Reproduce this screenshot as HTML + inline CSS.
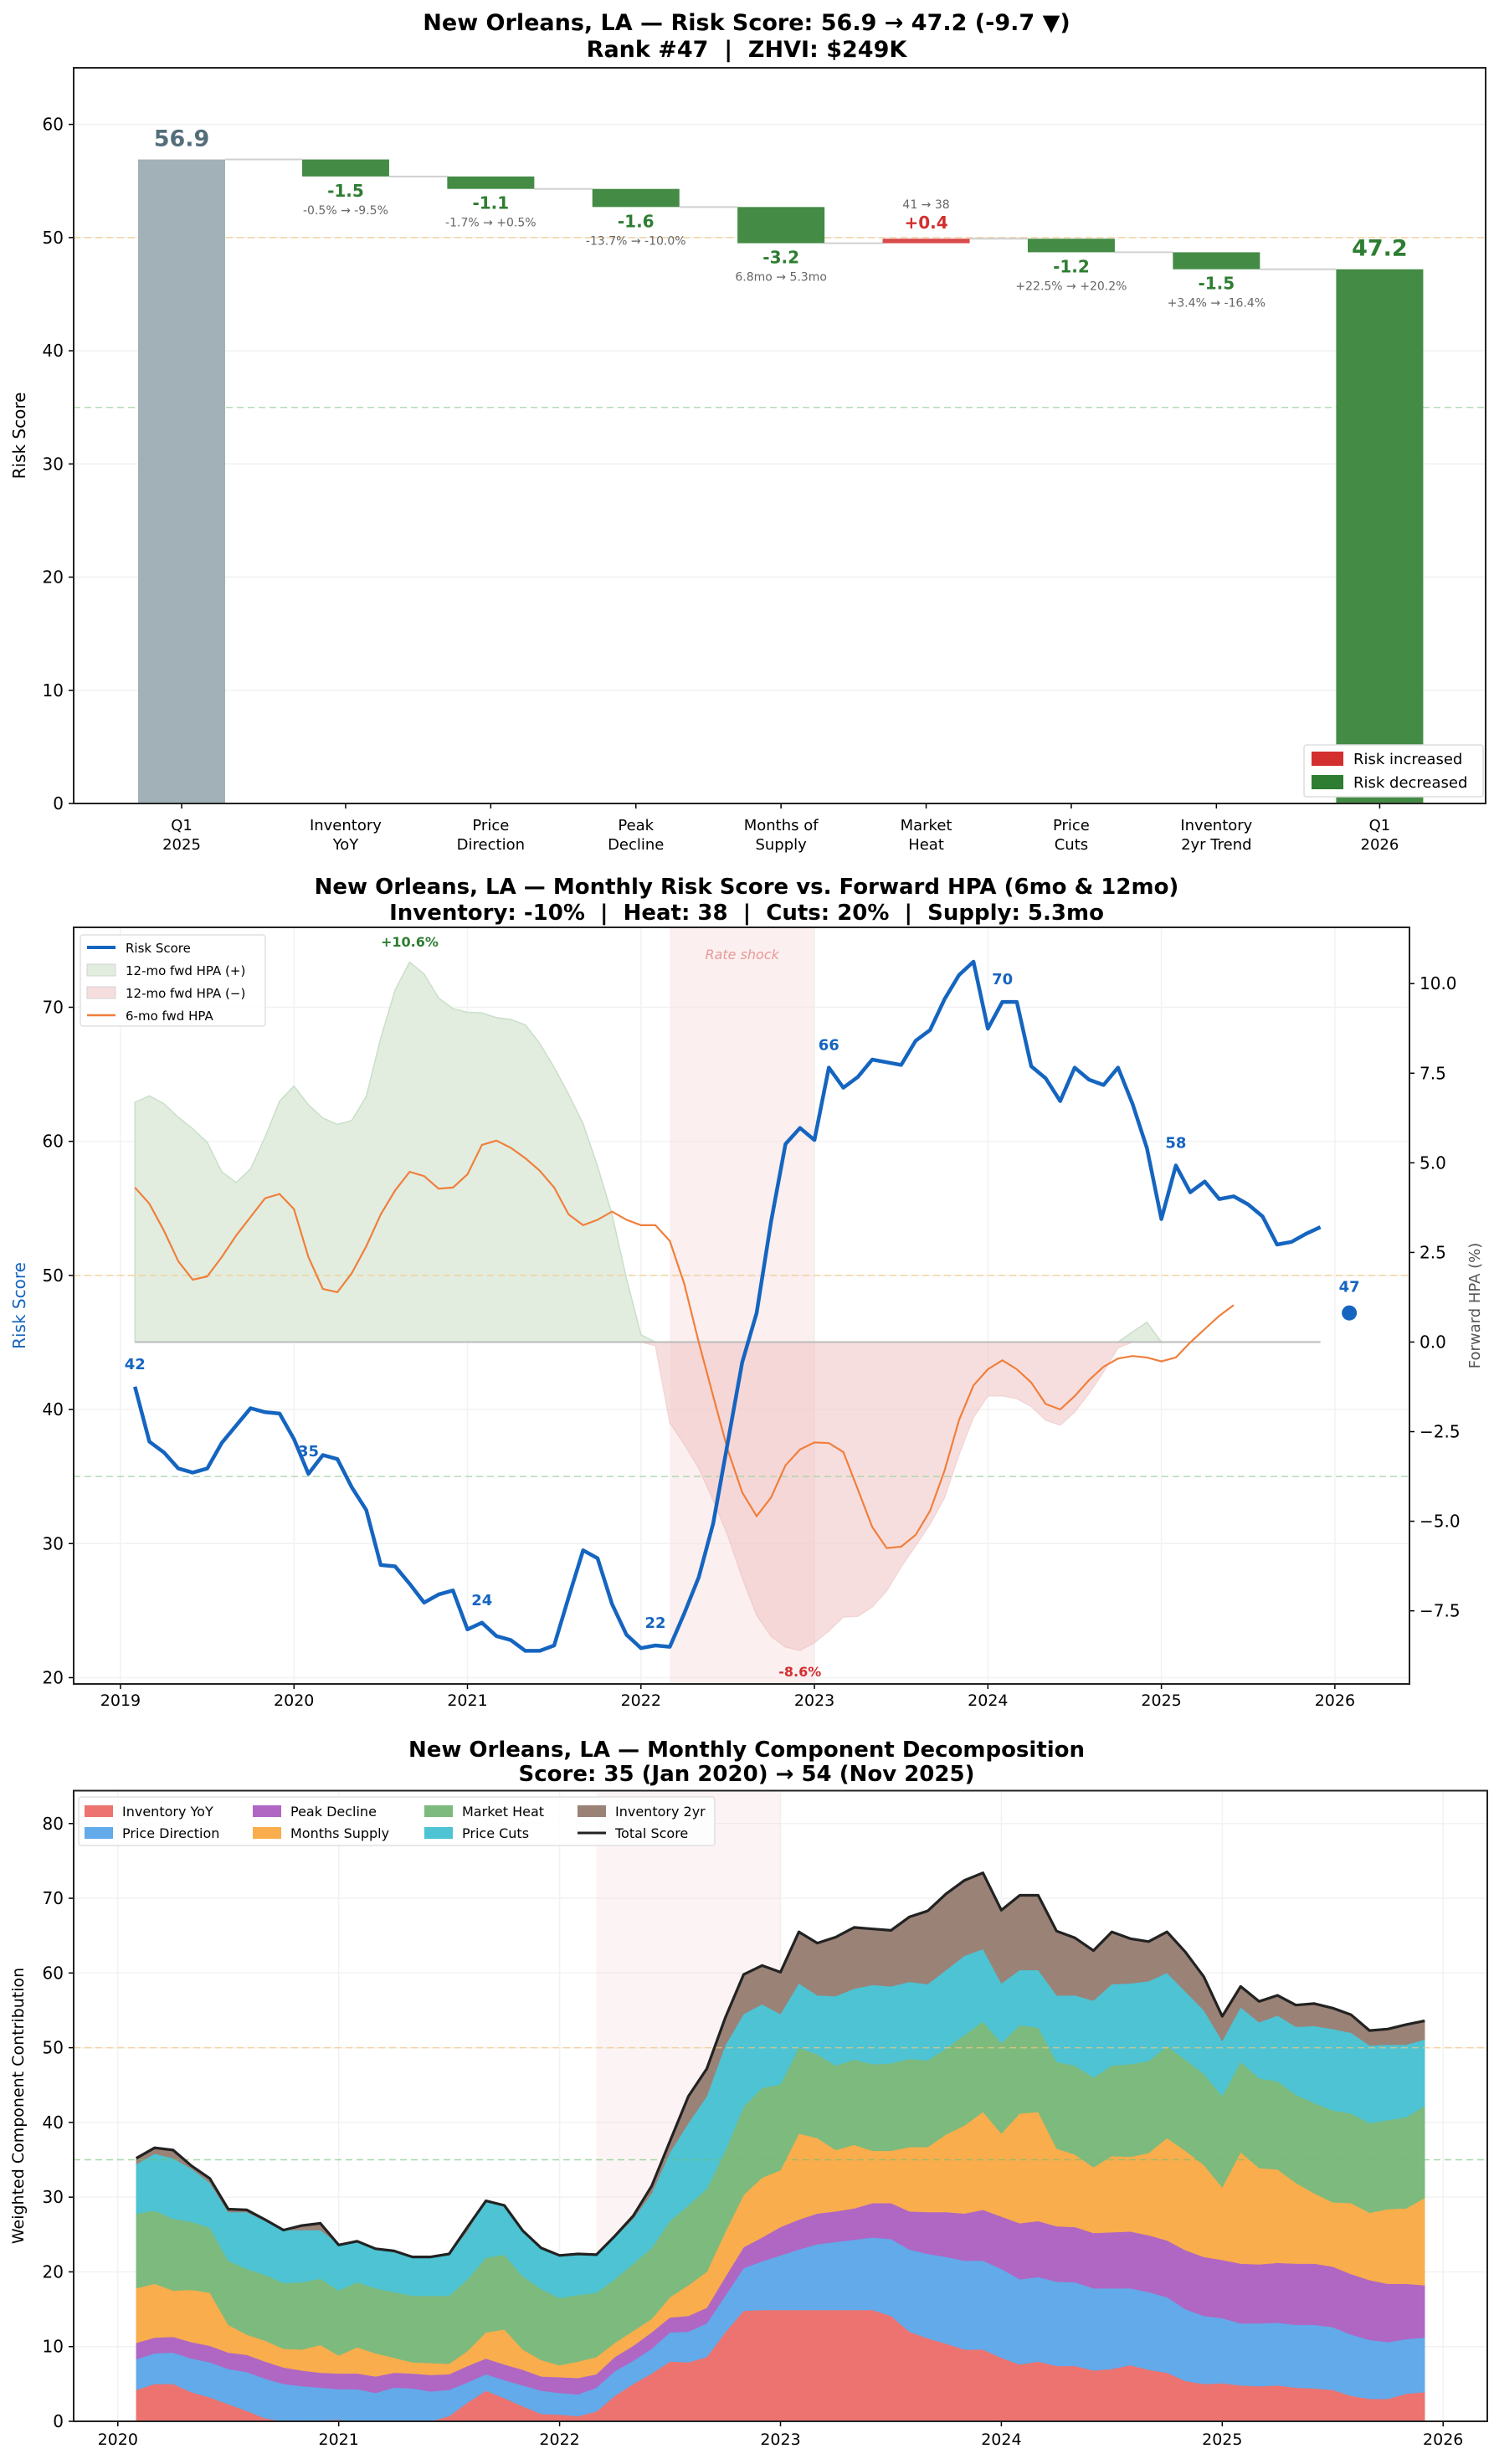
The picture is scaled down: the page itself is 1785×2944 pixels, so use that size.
<!DOCTYPE html>
<html><head><meta charset="utf-8"><style>
html,body{margin:0;padding:0;background:#fff;}
svg{display:block;font-family:"DejaVu Sans","Liberation Sans",sans-serif;}
</style></head><body>
<svg id="c" width="1785" height="2944" xmlns="http://www.w3.org/2000/svg"></svg>
<script>
// ---------- Panel 1 data ----------
const wfCategories=['Q1\n2025','Inventory\nYoY','Price\nDirection','Peak\nDecline','Months of\nSupply','Market\nHeat','Price\nCuts','Inventory\n2yr Trend','Q1\n2026'];
const wfStart=56.9;
const wfDeltas=[-1.5,-1.1,-1.6,-3.2,0.4,-1.2,-1.5];
const wfEnd=47.2;
const wfDetails=['-0.5% → -9.5%','-1.7% → +0.5%','-13.7% → -10.0%','6.8mo → 5.3mo','41 → 38','+22.5% → +20.2%','+3.4% → -16.4%'];
const wfYTicks=[0,10,20,30,40,50,60];
// ---------- Panel 2 data ----------
const scoreValues=[41.7,37.6,36.8,35.6,35.3,35.6,37.5,38.8,40.1,39.8,39.7,
37.8,35.2,36.6,36.3,34.2,32.5,28.4,28.3,27.0,25.6,26.2,26.5,
23.6,24.1,23.1,22.8,22.0,22.0,22.4,26.0,29.5,28.9,25.5,23.2,
22.2,22.4,22.3,24.8,27.5,31.5,37.5,43.5,47.2,54.0,59.8,61.0,
60.1,65.5,64.0,64.8,66.1,65.9,65.7,67.5,68.3,70.6,72.4,73.4,
68.4,70.4,70.4,65.6,64.7,63.0,65.5,64.6,64.2,65.5,62.8,59.5,
54.2,58.2,56.2,57.0,55.7,55.9,55.3,54.4,52.3,52.5,53.1,53.6];
const scoreStartYear=2019, scoreStartMonth=2;
const fwd12Values=[6.69,6.87,6.65,6.27,5.95,5.57,4.75,4.45,4.83,5.72,6.72,7.14,
6.62,6.25,6.07,6.18,6.85,8.48,9.82,10.6,10.27,9.6,9.3,9.2,
9.18,9.05,9.0,8.85,8.33,7.66,6.91,6.09,4.9,3.56,1.77,0.2,
-0.1,-2.25,-2.85,-3.52,-4.41,-5.38,-6.57,-7.62,-8.21,-8.51,-8.6,-8.39,
-8.06,-7.67,-7.65,-7.39,-6.94,-6.27,-5.68,-5.08,-4.34,-3.14,-2.1,-1.5,
-1.5,-1.58,-1.8,-2.18,-2.32,-1.95,-1.43,-0.83,-0.16,0.28,0.55,0];
const fwd6Values=[4.31,3.86,3.11,2.25,1.74,1.83,2.37,2.97,3.49,4.01,4.13,3.71,
2.37,1.48,1.39,1.92,2.67,3.56,4.23,4.75,4.63,4.28,4.31,4.68,
5.5,5.62,5.42,5.13,4.78,4.31,3.56,3.26,3.41,3.64,3.41,3.26,
3.26,2.82,1.62,-0.01,-1.51,-3.0,-4.19,-4.86,-4.34,-3.44,-3.0,-2.8,
-2.82,-3.07,-4.11,-5.16,-5.75,-5.71,-5.38,-4.71,-3.59,-2.18,-1.21,-0.76,
-0.51,-0.76,-1.13,-1.73,-1.88,-1.51,-1.06,-0.69,-0.46,-0.39,-0.43,-0.54,
-0.43,-0.01,0.36,0.73,1.03];
const scoreLabelIdx=[0,12,24,36,48,60,72];
const currentScore=47.2;
const currentDate=2026+1/12;
const rateShock=[2022+2/12,2023.0];
const p2YearTicks=[2019,2020,2021,2022,2023,2024,2025,2026];
const p2LeftTicks=[20,30,40,50,60,70];
const p2RightTicks=[-7.5,-5.0,-2.5,0.0,2.5,5.0,7.5,10.0];
// ---------- Panel 3 data (Feb 2020 .. Dec 2025) ----------
const compNames=['Inventory YoY','Price Direction','Peak Decline','Months Supply','Market Heat','Price Cuts','Inventory 2yr'];
const compInventoryYoY=[4.2,5.0,5.0,3.9,3.2,2.3,1.4,0.4,0,0,0.15,0.2,0,0,0,0,0,0.7,2.5,4.1,3.1,2.0,1.0,0.9,0.7,1.3,3.4,5.0,6.4,8.0,7.9,8.6,11.9,14.8,14.9,14.9,
14.9,14.9,14.9,14.9,14.9,14.1,12.0,11.1,10.4,9.6,9.6,8.5,7.6,8.0,7.4,7.4,6.8,7.0,7.5,6.9,6.5,5.4,5.0,5.1,4.8,4.7,4.8,4.5,4.4,4.2,3.4,3.0,3.0,3.7,3.9];
const compPriceDirection=[4.1,4.1,4.2,4.5,4.7,4.7,5.2,5.3,5.0,4.7,4.35,4.1,4.3,3.8,4.5,4.4,4.0,3.5,2.7,2.2,2.4,2.8,3.1,2.9,2.9,3.2,3.3,3.1,3.3,3.9,4.1,4.5,4.9,5.7,6.5,7.3,
8.1,8.8,9.1,9.4,9.7,10.3,11.0,11.3,11.6,11.9,11.9,11.9,11.4,11.3,11.3,11.2,11.0,10.8,10.3,10.4,10.1,9.6,9.1,8.7,8.3,8.4,8.4,8.4,8.5,8.4,8.2,7.9,7.6,7.3,7.3];
const compPeakDecline=[2.2,2.1,2.1,2.2,2.2,2.2,2.3,2.3,2.2,2.1,2.0,2.1,2.1,2.2,2.0,2.0,2.2,2.1,2.2,2.1,2.1,2.1,1.9,2.1,2.2,1.8,1.9,2.0,2.2,2.0,2.1,2.1,2.5,2.8,3.2,3.8,
4.0,4.1,4.1,4.2,4.6,4.8,5.1,5.6,6.0,6.3,6.8,7.0,7.5,7.5,7.4,7.4,7.4,7.5,7.6,7.6,7.6,7.9,7.9,7.8,8.0,7.9,8.0,8.2,8.2,8.1,8.1,8.0,7.8,7.4,7.0];
const compMonthsSupply=[7.3,7.2,6.2,7.0,7.1,3.7,2.7,2.8,2.5,2.8,3.7,2.4,3.5,3.1,2.0,1.5,1.6,1.4,2.0,3.5,4.7,2.7,2.2,1.6,2.2,2.3,1.9,2.0,1.8,2.7,4.1,4.8,6.0,7.0,8.0,7.6,
11.5,10.1,8.2,8.5,7.0,7.0,8.6,8.7,10.4,11.8,13.1,11.1,14.7,14.6,10.4,9.7,8.8,10.2,10.0,11.0,13.7,13.3,12.3,9.7,14.9,12.9,12.5,10.8,9.4,8.6,9.5,9.0,10.0,10.1,11.7];
const compMarketHeat=[10.0,9.8,9.6,9.1,8.7,8.6,8.8,8.8,8.8,9.0,8.9,8.7,8.7,8.7,8.8,8.9,9.0,9.1,9.6,10.0,10.0,9.8,9.5,9.0,8.9,8.6,8.5,9.0,9.5,10.2,10.7,11.1,10.9,11.8,12.0,11.5,
11.5,11.2,11.3,11.4,11.6,11.7,11.8,11.6,11.5,12.1,12.1,12.1,11.8,11.3,11.6,11.9,12.0,12.1,12.4,12.3,12.3,12.2,12.2,12.2,12.1,12.0,11.8,11.8,12.1,12.3,12.0,12.0,11.9,12.2,12.3];
const compPriceCuts=[6.6,7.6,8.1,7.1,6.0,6.5,7.6,7.2,7.1,7.0,6.5,6.2,5.6,5.3,5.6,5.2,5.2,5.5,6.5,7.7,6.6,6.1,5.6,5.7,5.5,5.1,5.6,6.0,7.3,9.2,11.0,12.4,14.1,12.4,11.2,9.4,
8.6,7.9,9.3,9.5,10.6,10.3,10.3,10.2,10.5,10.6,9.7,8.0,7.4,7.7,8.9,9.4,10.3,10.9,10.8,10.7,9.8,9.1,8.5,7.4,7.3,7.5,8.8,9.1,10.3,10.9,10.8,10.4,10.1,9.7,8.9];
const compInventory2yr=[0.8,0.8,1.1,0.4,0.6,0.4,0.3,0.2,0,0.6,0.9,0,0,0,0,0,0,0.1,0.5,0,0,0,0,0,0,0,0.2,0.4,1.0,1.5,3.6,3.7,3.7,5.3,5.2,5.6,
6.9,7.0,7.9,8.2,7.5,7.5,8.7,9.8,10.2,10.1,10.2,9.8,10.0,10.0,8.6,7.7,6.7,7.0,6.0,5.3,5.5,5.3,4.5,3.1,2.8,2.8,2.7,2.9,3.0,2.8,2.4,2.0,2.1,2.7,2.5];
const p3StartIdx=12;
const p3YearTicks=[2020,2021,2022,2023,2024,2025,2026];
const p3YTicks=[0,10,20,30,40,50,60,70,80];

// ---------- helpers ----------
const NS='http://www.w3.org/2000/svg';
const svg=document.getElementById('c');
function mk(tag,attrs,parent){const e=document.createElementNS(NS,tag);for(const k in attrs)e.setAttribute(k,attrs[k]);(parent||svg).appendChild(e);return e;}
function tx(x,y,s,size,opts,parent){opts=opts||{};const e=mk('text',{x:x,y:y,'font-size':size,'text-anchor':opts.anchor||'middle',fill:opts.fill||'#000','font-weight':opts.weight||'normal'},parent);if(opts.style)e.setAttribute('font-style',opts.style);if(opts.rot)e.setAttribute('transform','rotate('+opts.rot+' '+x+' '+y+')');e.textContent=s;return e;}
function grp(){return mk('g',{});}
function dateOf(i){return scoreStartYear+(scoreStartMonth-1+i)/12;}
const SP='\u00a0';

// ================= PANEL 1 =================
const P1={l:88,r:1775,t:81,b:960,ymax:65};
function y1(v){return P1.b-(v/P1.ymax)*(P1.b-P1.t);}
const wfPos=[0,1.13,2.13,3.13,4.13,5.13,6.13,7.13,8.255];
function x1(p){return 217+p*173.4;}
const bw=104;
let g=grp();


let t=tx(892,36,'New Orleans, LA — Risk Score: 56.9 → 47.2 (-9.7 ▼)',27,{weight:'bold'},g);


t=tx(892,68,'Rank #47'+SP+SP+'|'+SP+SP+'ZHVI: $249K',27,{weight:'bold'},g);


wfYTicks.forEach(v=>{
  const gl=mk('line',{x1:P1.l,x2:P1.r,y1:y1(v),y2:y1(v),stroke:'#f0f0f0','stroke-width':1.5},g);
  
  
  const tl=tx(P1.l-12,y1(v)+7,String(v),20,{anchor:'end'},g);
  
  
  const tk=mk('line',{x1:P1.l-6,x2:P1.l,y1:y1(v),y2:y1(v),stroke:'#000','stroke-width':1.5},g);
  
  
});
let hl=mk('line',{x1:P1.l,x2:P1.r,y1:y1(50),y2:y1(50),stroke:'#f5c77e','stroke-width':1.5,'stroke-dasharray':'8,5',opacity:0.7},g);


hl=mk('line',{x1:P1.l,x2:P1.r,y1:y1(35),y2:y1(35),stroke:'#9fd3a4','stroke-width':1.5,'stroke-dasharray':'8,5',opacity:0.8},g);


let b=mk('rect',{x:x1(wfPos[0])-bw/2,y:y1(wfStart),width:bw,height:y1(0)-y1(wfStart),fill:'#a2b0b8'},g);


t=tx(x1(wfPos[0]),y1(wfStart)-16,wfStart.toFixed(1),27,{weight:'bold',fill:'#546e7a'},g);


let level=wfStart;
wfDeltas.forEach((d,i)=>{
  const p=wfPos[i+1];
  const prevX=x1(wfPos[i])+bw/2;
  const c=mk('line',{x1:prevX,x2:x1(p)-bw/2,y1:y1(level),y2:y1(level),stroke:'#d0d0d0','stroke-width':2},g);
  
  
  const nl=level+d;
  const top=Math.max(level,nl), bot=Math.min(level,nl);
  const col=d>0?'#d94a4a':'#448b46';
  const r=mk('rect',{x:x1(p)-bw/2,y:y1(top),width:bw,height:Math.max(2,y1(bot)-y1(top)),fill:col},g);
  
  
  const lab=(d>0?'+':'')+d.toFixed(1);
  if(d<0){
    const a=tx(x1(p),y1(bot)+24,lab,20,{weight:'bold',fill:'#2e7d32'},g);
    
    
    const s=tx(x1(p),y1(bot)+45,wfDetails[i],14,{fill:'#666'},g);
    
    
  }else{
    const a=tx(x1(p),y1(top)-12,lab,20,{weight:'bold',fill:'#d32f2f'},g);
    
    
    const s=tx(x1(p),y1(top)-36,wfDetails[i],14,{fill:'#666'},g);
    
    
  }
  level=nl;
});
let c=mk('line',{x1:x1(wfPos[7])+bw/2,x2:x1(wfPos[8])-bw/2,y1:y1(level),y2:y1(level),stroke:'#d0d0d0','stroke-width':2},g);


b=mk('rect',{x:x1(wfPos[8])-bw/2,y:y1(wfEnd),width:bw,height:y1(0)-y1(wfEnd),fill:'#448b46'},g);


t=tx(x1(wfPos[8]),y1(wfEnd)-16,wfEnd.toFixed(1),27,{weight:'bold',fill:'#2e7d32'},g);


wfCategories.forEach((cat,i)=>{
  const x=x1(wfPos[i]);
  const tk=mk('line',{x1:x,x2:x,y1:P1.b,y2:P1.b+6,stroke:'#000','stroke-width':1.5},g);
  
  
  const parts=cat.split('\n');
  parts.forEach((pt,j)=>{
    const l=tx(x,992+j*23,pt,18,{},g);
    
    
  });
});
let fr=mk('rect',{x:P1.l,y:P1.t,width:P1.r-P1.l,height:P1.b-P1.t,fill:'none',stroke:'#222','stroke-width':2},g);


t=tx(30,(P1.t+P1.b)/2,'Risk Score',20,{rot:-90},g);


let lg=mk('rect',{x:1558,y:890,width:214,height:62,fill:'#fff',stroke:'#ddd','stroke-width':1.5,rx:3},g);


let sw=mk('rect',{x:1567,y:898,width:38,height:17,fill:'#d32f2f'},g);


t=tx(1617,913,'Risk increased',18,{anchor:'start'},g);


sw=mk('rect',{x:1567,y:926,width:38,height:17,fill:'#2e7d32'},g);


t=tx(1617,941,'Risk decreased',18,{anchor:'start'},g);



// ================= PANEL 2 =================
const P2={l:88,r:1684,t:1108,b:2012,x0:2018.73,x1:2026.43,yl0:19.53,yl1:75.96,yr0:-9.54,yr1:11.57};
function x2(d){return P2.l+(d-P2.x0)/(P2.x1-P2.x0)*(P2.r-P2.l);}
function yl(v){return P2.b-(v-P2.yl0)/(P2.yl1-P2.yl0)*(P2.b-P2.t);}
function yr(v){return P2.b-(v-P2.yr0)/(P2.yr1-P2.yr0)*(P2.b-P2.t);}
g=grp();


t=tx(892,1068,'New Orleans, LA — Monthly Risk Score vs. Forward HPA (6mo & 12mo)',26,{weight:'bold'},g);


t=tx(892,1099,'Inventory: -10%'+SP+SP+'|'+SP+SP+'Heat: 38'+SP+SP+'|'+SP+SP+'Cuts: 20%'+SP+SP+'|'+SP+SP+'Supply: 5.3mo',26,{weight:'bold'},g);


p2YearTicks.forEach(yv=>{
  const x=x2(yv);
  const gl=mk('line',{x1:x,x2:x,y1:P2.t,y2:P2.b,stroke:'#f2f2f2','stroke-width':1.5},g);
  
  
  const tk=mk('line',{x1:x,x2:x,y1:P2.b,y2:P2.b+6,stroke:'#000','stroke-width':1.5},g);
  
  
  const l=tx(x,2038,String(yv),19,{},g);
  
  
});
p2LeftTicks.forEach(v=>{
  const gl=mk('line',{x1:P2.l,x2:P2.r,y1:yl(v),y2:yl(v),stroke:'#f2f2f2','stroke-width':1.5},g);
  
  
  const tk=mk('line',{x1:P2.l-6,x2:P2.l,y1:yl(v),y2:yl(v),stroke:'#000','stroke-width':1.5},g);
  
  
  const l=tx(P2.l-12,yl(v)+7,String(v),20,{anchor:'end'},g);
  
  
});
p2RightTicks.forEach(v=>{
  const tk=mk('line',{x1:P2.r,x2:P2.r+6,y1:yr(v),y2:yr(v),stroke:'#000','stroke-width':1.5},g);
  
  
  const l=tx(P2.r+12,yr(v)+7,v.toFixed(1).replace('-','−'),20,{anchor:'start'},g);
  
  
});
let rs=mk('rect',{x:x2(rateShock[0]),y:P2.t,width:x2(rateShock[1])-x2(rateShock[0]),height:P2.b-P2.t,fill:'#f6dcdc',opacity:0.45},g);


t=tx((x2(rateShock[0])+x2(rateShock[1]))/2,1146,'Rate shock',16,{fill:'#e89a9a',style:'italic'},g);


function areaPath(vals,fn){
  let top='',base='';
  vals.forEach((v,i)=>{top+=(i?'L':'M')+x2(dateOf(i)).toFixed(1)+','+yr(fn(v)).toFixed(1);});
  for(let i=vals.length-1;i>=0;i--){base+='L'+x2(dateOf(i)).toFixed(1)+','+yr(0).toFixed(1);}
  return top+base+'Z';
}
let ap=mk('path',{d:areaPath(fwd12Values,v=>Math.max(v,0)),fill:'#e2ede0',stroke:'#c9dfc8','stroke-width':1.5},g);


ap=mk('path',{d:areaPath(fwd12Values,v=>Math.min(v,0)),fill:'#f2c4c4',opacity:0.55,stroke:'#eab4b4','stroke-width':1.5},g);


let zl=mk('line',{x1:x2(dateOf(0)),x2:x2(dateOf(scoreValues.length-1)),y1:yr(0),y2:yr(0),stroke:'#bbb','stroke-width':2},g);


hl=mk('line',{x1:P2.l,x2:P2.r,y1:yl(50),y2:yl(50),stroke:'#f5c77e','stroke-width':1.5,'stroke-dasharray':'8,5',opacity:0.7},g);


hl=mk('line',{x1:P2.l,x2:P2.r,y1:yl(35),y2:yl(35),stroke:'#9fd3a4','stroke-width':1.5,'stroke-dasharray':'8,5',opacity:0.8},g);


let pd=fwd6Values.map((v,i)=>(i?'L':'M')+x2(dateOf(i)).toFixed(1)+','+yr(v).toFixed(1)).join('');
let ln=mk('path',{d:pd,fill:'none',stroke:'#f07f3c','stroke-width':2.2},g);


pd=scoreValues.map((v,i)=>(i?'L':'M')+x2(dateOf(i)).toFixed(1)+','+yl(v).toFixed(1)).join('');
ln=mk('path',{d:pd,fill:'none',stroke:'#1565c0','stroke-width':4.5,'stroke-linejoin':'round'},g);


scoreLabelIdx.forEach(i=>{
  const l=tx(x2(dateOf(i)),yl(scoreValues[i])-21,String(Math.round(scoreValues[i])),18,{weight:'bold',fill:'#1565c0'},g);
  
  
});
let dot=mk('circle',{cx:x2(currentDate),cy:yl(currentScore),r:9,fill:'#1565c0'},g);


t=tx(x2(currentDate),yl(currentScore)-25,String(Math.round(currentScore)),18,{weight:'bold',fill:'#1565c0'},g);


let maxI=0,minI=0;
fwd12Values.forEach((v,i)=>{if(v>fwd12Values[maxI])maxI=i;if(v<fwd12Values[minI])minI=i;});
t=tx(x2(dateOf(maxI)),1131,'+'+fwd12Values[maxI].toFixed(1)+'%',16,{weight:'bold',fill:'#2e7d32'},g);


t=tx(x2(dateOf(minI)),2003,fwd12Values[minI].toFixed(1)+'%',16,{weight:'bold',fill:'#d32f2f'},g);


fr=mk('rect',{x:P2.l,y:P2.t,width:P2.r-P2.l,height:P2.b-P2.t,fill:'none',stroke:'#222','stroke-width':2},g);


t=tx(30,1560,'Risk Score',20,{rot:-90,fill:'#1565c0'},g);


t=tx(1768,1560,'Forward HPA (%)',18,{rot:-90,fill:'#555'},g);


lg=mk('rect',{x:96,y:1117,width:221,height:109,fill:'#fff',stroke:'#ddd','stroke-width':1.5,rx:3,opacity:0.9},g);


const p2leg=[['Risk Score','line','#1565c0',4],['12-mo fwd HPA (+)','patch','#e2ede0'],['12-mo fwd HPA (−)','patch','#f7dede'],['6-mo fwd HPA','line','#f07f3c',2.5]];
p2leg.forEach((e,j)=>{
  const yy=1132+j*27;
  let s;
  if(e[1]==='line'){s=mk('line',{x1:104,x2:138,y1:yy,y2:yy,stroke:e[2],'stroke-width':e[3]},g);}
  else{s=mk('rect',{x:104,y:yy-7,width:34,height:14,fill:e[2],stroke:'#ccc','stroke-width':0.8},g);}
  
  
  const l=tx(150,yy+6,e[0],15,{anchor:'start'},g);
  
  
});

// ================= PANEL 3 =================
const P3={l:88,r:1777,t:2139.5,b:2893,x0:2019.80,x1:2026.2,ymax:84.4};
function x3(d){return P3.l+(d-P3.x0)/(P3.x1-P3.x0)*(P3.r-P3.l);}
function y3(v){return P3.b-(v/P3.ymax)*(P3.b-P3.t);}
g=grp();


t=tx(892,2099,'New Orleans, LA — Monthly Component Decomposition',26,{weight:'bold'},g);


t=tx(892,2128,'Score: 35 (Jan 2020) → 54 (Nov 2025)',26,{weight:'bold'},g);


p3YearTicks.forEach(yv=>{
  const x=x3(yv);
  const gl=mk('line',{x1:x,x2:x,y1:P3.t,y2:P3.b,stroke:'#f2f2f2','stroke-width':1.5},g);
  
  
  const tk=mk('line',{x1:x,x2:x,y1:P3.b,y2:P3.b+6,stroke:'#000','stroke-width':1.5},g);
  
  
  const l=tx(x,2921,String(yv),19,{},g);
  
  
});
p3YTicks.forEach(v=>{
  const gl=mk('line',{x1:P3.l,x2:P3.r,y1:y3(v),y2:y3(v),stroke:'#f2f2f2','stroke-width':1.5},g);
  
  
  const tk=mk('line',{x1:P3.l-6,x2:P3.l,y1:y3(v),y2:y3(v),stroke:'#000','stroke-width':1.5},g);
  
  
  const l=tx(P3.l-12,y3(v)+7,String(v),20,{anchor:'end'},g);
  
  
});
rs=mk('rect',{x:x3(rateShock[0]),y:P3.t,width:x3(rateShock[1])-x3(rateShock[0]),height:P3.b-P3.t,fill:'#f6dcdc',opacity:0.3},g);


const compSeries=[compInventoryYoY,compPriceDirection,compPeakDecline,compMonthsSupply,compMarketHeat,compPriceCuts,compInventory2yr];
const compColors=['#ec7370','#62aae9','#af67c3','#f9ad4c','#7dba7d','#4dc3d3','#9a8277'];
const compKeys=['inventory-yoy','price-direction','peak-decline','months-supply','market-heat','price-cuts','inventory-2yr'];
const n3=compInventoryYoY.length;
let cum=new Array(n3).fill(0);
compSeries.forEach((s,k)=>{
  const lo=cum.slice();
  const hi=cum.map((v,i)=>v+s[i]);
  let d='';
  for(let i=0;i<n3;i++){d+=(i?'L':'M')+x3(dateOf(p3StartIdx+i)).toFixed(1)+','+y3(hi[i]).toFixed(1);}
  for(let i=n3-1;i>=0;i--){d+='L'+x3(dateOf(p3StartIdx+i)).toFixed(1)+','+y3(lo[i]).toFixed(1);}
  const a=mk('path',{d:d+'Z',fill:compColors[k],stroke:compColors[k],'stroke-width':0.5},g);
  
  
  cum=hi;
});
hl=mk('line',{x1:P3.l,x2:P3.r,y1:y3(50),y2:y3(50),stroke:'#f5c77e','stroke-width':1.5,'stroke-dasharray':'8,5',opacity:0.7},g);


hl=mk('line',{x1:P3.l,x2:P3.r,y1:y3(35),y2:y3(35),stroke:'#6cbf72','stroke-width':1.5,'stroke-dasharray':'8,5',opacity:0.6},g);


pd='';
for(let i=0;i<n3;i++){pd+=(i?'L':'M')+x3(dateOf(p3StartIdx+i)).toFixed(1)+','+y3(scoreValues[p3StartIdx+i]).toFixed(1);}
ln=mk('path',{d:pd,fill:'none',stroke:'#222','stroke-width':3.2,'stroke-linejoin':'round'},g);


fr=mk('rect',{x:P3.l,y:P3.t,width:P3.r-P3.l,height:P3.b-P3.t,fill:'none',stroke:'#222','stroke-width':2},g);


t=tx(28,2516,'Weighted Component Contribution',19,{rot:-90},g);


lg=mk('rect',{x:94,y:2147,width:760,height:58,fill:'#fff',stroke:'#ddd','stroke-width':1.5,rx:3,opacity:0.9},g);


const legCols=[101,302,507,690];
const legOrder=[[0,1],[2,3],[4,5],[6,7]];
const legNames=compNames.concat(['Total Score']);
legOrder.forEach((pair,ci)=>{
  pair.forEach((k,ri)=>{
    const yy=2164+ri*26;
    let s;
    if(k<7){s=mk('rect',{x:legCols[ci],y:yy-7,width:34,height:14,fill:compColors[k]},g);}
    else{s=mk('line',{x1:legCols[ci],x2:legCols[ci]+34,y1:yy,y2:yy,stroke:'#222','stroke-width':3},g);}
    
    
    const l=tx(legCols[ci]+45,yy+6,legNames[k],16,{anchor:'start'},g);
    
    
  });
});
</script>
</body></html>
